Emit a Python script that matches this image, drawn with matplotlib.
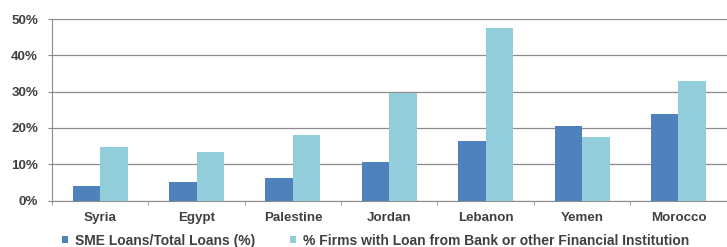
import matplotlib
matplotlib.use("Agg")
import matplotlib.pyplot as plt
import numpy as np

countries = ["Syria", "Egypt", "Palestine", "Jordan", "Lebanon", "Yemen", "Morocco"]
sme_share = [4.1, 5.2, 6.3, 10.5, 16.3, 20.4, 23.8]
firms_with_loan = [14.8, 13.5, 18.0, 29.6, 47.5, 17.6, 32.9]
yticks = [0, 10, 20, 30, 40, 50]

plt.rcParams["font.family"] = ["Liberation Sans", "DejaVu Sans"]
text_col = "#404040"
fs = 9.6

fig = plt.figure(figsize=(7.27, 2.47), dpi=100)
ax = fig.add_axes([0.0715, 0.188, 0.928, 0.735])

x = np.arange(len(countries))
w = 0.285
ax.bar(x - w / 2, sme_share, w, color="#4F81BD", label="SME Loans/Total Loans (%)", zorder=3)
ax.bar(x + w / 2, firms_with_loan, w, color="#92CDDC",
       label="% Firms with Loan from Bank or other Financial Institution", zorder=3)

ax.set_xlim(-0.5, len(countries) - 0.5)
ax.set_ylim(0, 50)
ax.set_yticks(yticks)
ax.set_yticklabels([f"{v}%" for v in yticks], fontsize=fs, fontweight="bold", color=text_col)
ax.set_xticks(x)
ax.set_xticklabels(countries, fontsize=fs, fontweight="bold", color=text_col)
ax.tick_params(axis="x", length=0, pad=8)
ax.set_xticks(np.arange(len(countries) + 1) - 0.5, minor=True)
ax.tick_params(axis="x", which="minor", length=3, color="#8c8c8c")
ax.tick_params(axis="y", length=3, color="#8c8c8c", pad=7)

ax.grid(axis="y", color="#8c8c8c", linewidth=0.9, zorder=0)
for s in ["top", "right"]:
    ax.spines[s].set_visible(False)
for s in ["left", "bottom"]:
    ax.spines[s].set_color("#8c8c8c")

leg = ax.legend(loc="center left", bbox_to_anchor=(62 / 727, 6.5 / 247),
                bbox_transform=fig.transFigure, ncol=2, frameon=False,
                handlelength=0.45, handleheight=0.45, handletextpad=0.5,
                columnspacing=2.5, borderaxespad=0, borderpad=0,
                prop={"size": 10, "weight": "bold"})
for t in leg.get_texts():
    t.set_color(text_col)

fig.savefig("out.png", dpi=100)
